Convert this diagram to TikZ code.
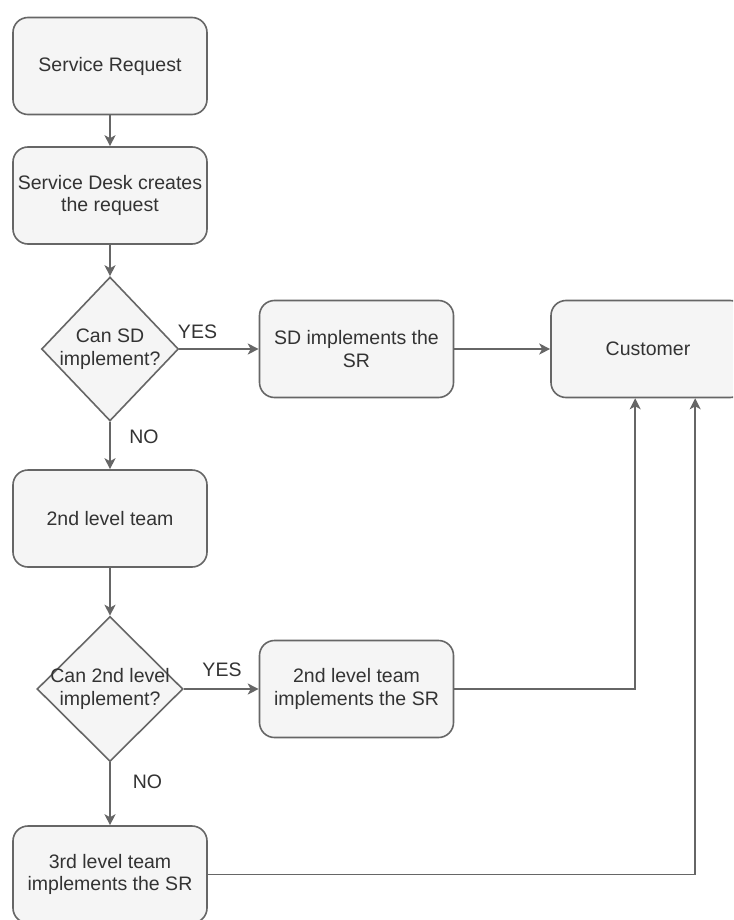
\documentclass[tikz,border=0pt]{standalone}
\usepackage{fontspec}
\setmainfont{Liberation Sans}
\usetikzlibrary{shapes.geometric,arrows.meta,calc}
\definecolor{boxfill}{HTML}{F5F5F5}
\definecolor{boxline}{HTML}{666666}
\definecolor{txtcol}{HTML}{333333}
\begin{document}
\begin{tikzpicture}[x=1pt,y=-1pt,
  font=\fontsize{19.5}{22.5}\selectfont,
  stepbox/.style={draw=boxline, fill=boxfill, line width=1.6pt, rounded corners=15pt,
    minimum width=194pt, minimum height=97pt, inner sep=0pt, align=center, text=txtcol},
  decision/.style={draw=boxline, fill=boxfill, line width=1.6pt, shape=diamond, inner sep=0pt},
  dtext/.style={align=center, text=txtcol, inner sep=0pt},
  lbl/.style={text=txtcol, inner sep=0pt},
  arr/.style={draw=boxline, line width=1.6pt, -{Stealth[length=11pt,width=11pt,inset=3pt]}}]
  \clip (0,0) rectangle (733,920);
  \fill[white] (0,0) rectangle (733,920);

  % process boxes
  \node[stepbox] (req)   at (110,66)    {Service Request};
  \node[stepbox] (desk)  at (110,195.5) {Service Desk creates\\the request};
  \node[stepbox] (sdimp) at (356.5,349) {SD implements the\\SR};
  \node[stepbox] (cust)  at (648,349)   {Customer};
  \node[stepbox] (lvl2)  at (110,518.5) {2nd level team};
  \node[stepbox] (imp2)  at (356.5,689) {2nd level team\\implements the SR};
  \node[stepbox] (imp3)  at (110,874.5) {3rd level team\\implements the SR};

  % decisions
  \node[decision, minimum width=137pt, minimum height=144pt] (q1) at (110,349) {};
  \node[dtext] at (q1) {Can SD\\implement?};
  \node[decision, minimum width=146pt, minimum height=145pt] (q2) at (110,689) {};
  \node[dtext] at (q2) {Can 2nd level\\implement?};

  % connectors
  \draw[arr] (req) -- (desk);
  \draw[arr] (desk) -- (q1);
  \draw[arr] (q1.east) -- (sdimp.west);
  \draw[arr] (sdimp) -- (cust);
  \draw[arr] (q1.south) -- (lvl2.north);
  \draw[arr] (lvl2) -- (q2.north);
  \draw[arr] (q2.east) -- (imp2.west);
  \draw[arr] (q2.south) -- (imp3.north);
  \draw[arr] (imp2.east) -| ([xshift=85pt]cust.south west);
  \draw[arr] (imp3.east) -| ([xshift=145pt]cust.south west);

  % branch labels
  \node[lbl] (yes1) at (197.5,332) {YES};
  \node[lbl] (no1)  at (144,437)   {NO};
  \node[lbl] (yes2) at (222,670)   {YES};
  \node[lbl] (no2)  at (147.5,782) {NO};
\end{tikzpicture}
\end{document}
